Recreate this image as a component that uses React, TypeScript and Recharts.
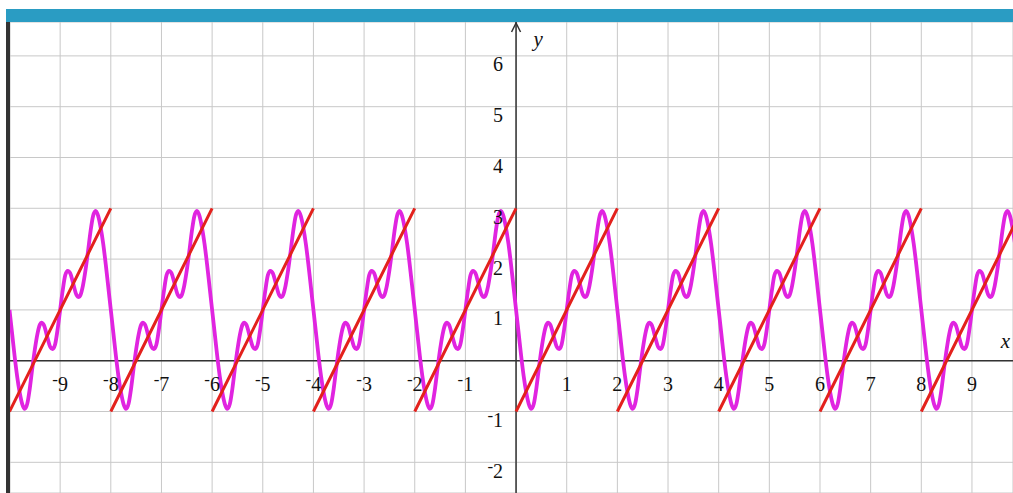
import React from "react";
import { LineChart, Line, XAxis, YAxis, CartesianGrid, ReferenceLine, ReferenceDot } from "recharts";

// axis range and grid
const xDomain = [-9.99, 9.81];
const yDomain = [-2.604, 6.667];
const xTicks = [-10, -9, -8, -7, -6, -5, -4, -3, -2, -1, 0, 1, 2, 3, 4, 5, 6, 7, 8, 9];
const yTicks = [-2, -1, 0, 1, 2, 3, 4, 5, 6];
const xLabels = [-9, -8, -7, -6, -5, -4, -3, -2, -1, 1, 2, 3, 4, 5, 6, 7, 8, 9];
const yLabels = [-2, -1, 1, 2, 3, 4, 5, 6];

// red sawtooth: one straight piece per period
const sawStarts = [-10, -8, -6, -4, -2, 0, 2, 4, 6, 8];
const sawPeriod = 2;
const sawLow = -1;
const sawHigh = 3;

// magenta approximation, one period (repeats every 2)
const waveStarts = [-10, -8, -6, -4, -2, 0, 2, 4, 6, 8];
const waveX = [
  0, 0.05, 0.1, 0.15, 0.2, 0.25, 0.3, 0.35, 0.4, 0.45, 0.5, 0.55, 0.6, 0.63, 0.68, 0.75, 0.8, 0.85, 0.9, 0.95,
  1, 1.05, 1.1, 1.15, 1.2, 1.25, 1.32, 1.37, 1.4, 1.45, 1.5, 1.55, 1.6, 1.65, 1.7, 1.75, 1.8, 1.85, 1.9, 1.95,
];
const waveY = [
  1, 0.55, 0.1, -0.3, -0.62, -0.85, -0.95, -0.85, -0.55, -0.15, 0.22, 0.52, 0.71, 0.75, 0.7, 0.45, 0.28, 0.23, 0.32, 0.62,
  1, 1.38, 1.68, 1.77, 1.72, 1.55, 1.3, 1.25, 1.29, 1.48, 1.78, 2.15, 2.55, 2.85, 2.95, 2.85, 2.62, 2.3, 1.9, 1.45,
];

const waveData = waveStarts.flatMap((s) => waveX.map((x, i) => ({ x: s + x, y: waveY[i] })));
const sawData = sawStarts.flatMap((s) => [
  { x: s, y: sawLow },
  { x: s + sawPeriod, y: sawHigh },
  { x: s + sawPeriod, y: null },
]);

const font = "'Liberation Serif', 'DejaVu Serif', 'Times New Roman', serif";
const ink = "#111";

function Num({ v }: { v: number }) {
  if (v >= 0) return <>{v}</>;
  return (
    <>
      <tspan dy={-6} fontSize={17}>-</tspan>
      <tspan dy={6}>{Math.abs(v)}</tspan>
    </>
  );
}

const xLabelShape = (v: number) => (p: any) => (
  <text x={p.cx} y={p.cy + 30} textAnchor="middle" fontFamily={font} fontSize={20} fill={ink}>
    <Num v={v} />
  </text>
);

const yLabelShape = (v: number) => (p: any) => (
  <text x={p.cx - 13} y={p.cy + 15.5} textAnchor="end" fontFamily={font} fontSize={20} fill={ink}>
    <Num v={v} />
  </text>
);

const arrowShape = (p: any) => (
  <g>
    <path
      d={`M${p.cx - 4.5},${p.cy + 10} L${p.cx},${p.cy + 1} L${p.cx + 4.5},${p.cy + 10}`}
      stroke="#333"
      strokeWidth={1.5}
      fill="none"
    />
    <text x={p.cx + 22} y={p.cy + 24} textAnchor="middle" fontFamily={font} fontStyle="italic" fontSize={21} fill={ink}>
      y
    </text>
  </g>
);

// the x name sits at the right edge of the plot
const xNameShape = (p: any) => (
  <text x={p.cx - 3} y={p.cy - 13} textAnchor="end" fontFamily={font} fontStyle="italic" fontSize={21} fill={ink}>
    x
  </text>
);

export default function App() {
  return (
    <div
      style={{ position: "fixed", left: 0, top: 0, width: 1013, height: 493, overflow: "hidden", background: "#fff" }}
    >
      <div style={{ position: "absolute", left: 6, right: 0, top: 9, height: 13, background: "#2a9cc3" }} />
      <div style={{ position: "absolute", left: 6, width: 4, top: 22, bottom: 0, background: "#333" }} />
      <div style={{ position: "absolute", left: 10, top: 22 }}>
        <LineChart width={1003} height={471} margin={{ top: 0, right: 0, bottom: 0, left: 0 }}>
          <XAxis
            type="number"
            dataKey="x"
            domain={xDomain}
            ticks={xTicks}
            allowDataOverflow
            hide
          />
          <YAxis type="number" domain={yDomain} ticks={yTicks} allowDataOverflow hide />
          <CartesianGrid stroke="#c8c8c8" strokeWidth={1} />
          <ReferenceLine y={0} stroke="#333" strokeWidth={1.5} />
          <ReferenceLine x={0} stroke="#333" strokeWidth={1.5} />
          {xLabels.map((v) => (
            <ReferenceDot key={"x" + v} x={v} y={0} r={0} shape={xLabelShape(v)} ifOverflow="visible" />
          ))}
          {yLabels.map((v) => (
            <ReferenceDot key={"y" + v} x={0} y={v} r={0} shape={yLabelShape(v)} ifOverflow="visible" />
          ))}
          <ReferenceDot x={0} y={yDomain[1]} r={0} shape={arrowShape} ifOverflow="visible" />
          <ReferenceDot x={xDomain[1]} y={0} r={0} shape={xNameShape} ifOverflow="visible" />
          <Line
            data={waveData}
            dataKey="y"
            type="monotone"
            stroke="#e024e0"
            strokeWidth={3.8}
            dot={false}
            activeDot={false}
            isAnimationActive={false}
          />
          <Line
            data={sawData}
            dataKey="y"
            type="linear"
            stroke="#e3211c"
            strokeWidth={3}
            dot={false}
            activeDot={false}
            connectNulls={false}
            isAnimationActive={false}
          />
        </LineChart>
      </div>
    </div>
  );
}
